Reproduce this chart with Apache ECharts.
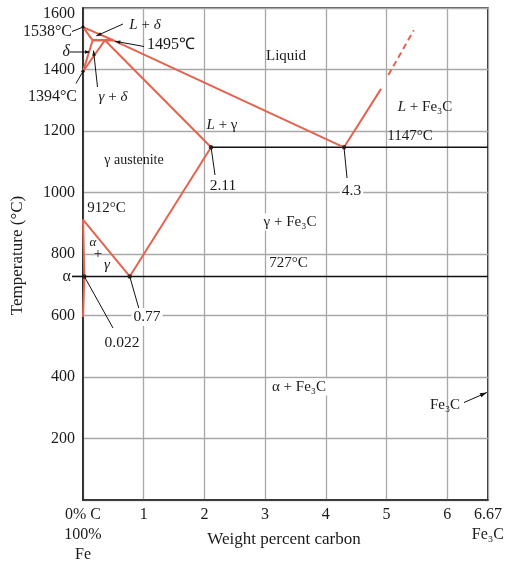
<!DOCTYPE html>
<html>
<head>
<meta charset="utf-8">
<script src="https://cdn.jsdelivr.net/npm/echarts@6/dist/echarts.min.js"></script>
<style>
  html, body { margin: 0; padding: 0; background: #fff; }
  #chart { width: 507px; height: 565px; }
</style>
</head>
<body>
<div id="chart"></div>
<script>
// Iron–iron carbide phase diagram. Every boundary is a list of [wt% C, °C] vertices.
const xTickValues = [0, 1, 2, 3, 4, 5, 6, 6.67];
const yTickValues = [0, 200, 400, 600, 800, 1000, 1200, 1400, 1600];

const liquidus          = [[0, 1538], [0.5, 1495], [4.3, 1147], [4.91, 1337]];
const liquidusExtension = [[5.03, 1382], [5.45, 1528]];
const deltaSolidus      = [[0, 1538], [0.16, 1495]];
const peritecticLine    = [[0.16, 1495], [0.5, 1495]];
const deltaSolvus       = [[0.16, 1495], [0, 1394]];
const gammaDeltaLine    = [[0, 1394], [0.36, 1495]];
const solidus           = [[0.36, 1495], [2.11, 1147]];
const acmLine           = [[2.11, 1147], [0.77, 727]];
const a3Line            = [[0, 912], [0.77, 727]];
const alphaLine         = [[0, 912], [0.022, 727], [0, 595]];
const eutecticLine      = [[2.11, 1147], [6.67, 1147]];
const eutectoidLine     = [[0, 727], [6.67, 727]];
const invariantPoints   = [[0.022, 727], [0.77, 727], [2.11, 1147], [4.3, 1147]];

const RED = '#e2644f';
const INK = '#1a1a1a';
const SERIF = '"Liberation Serif", "Times New Roman", serif';

const chart = echarts.init(document.getElementById('chart'), null, { renderer: 'canvas' });

function redLine(data, extra) {
  return Object.assign({
    type: 'line', data: data, symbol: 'none', showSymbol: false, silent: true, z: 4,
    lineStyle: { color: RED, width: 2 }
  }, extra || {});
}
function blackLine(data) {
  return { type: 'line', data: data, symbol: 'none', showSymbol: false, silent: true, z: 3,
           lineStyle: { color: '#111', width: 1.6 } };
}

chart.setOption({
  animation: false,
  backgroundColor: '#fff',
  grid: { left: 83, right: 18, top: 8, bottom: 62, show: true, borderColor: '#222', borderWidth: 1.6 },
  xAxis: {
    type: 'value', min: 0, max: 6.67, interval: 1,
    axisLine: { show: true, lineStyle: { color: '#222', width: 1.6 } },
    axisTick: { show: false },
    splitLine: { show: true, lineStyle: { color: '#a8a8a8', width: 1.3 } },
    axisLabel: {
      margin: 5, color: INK, fontSize: 16, fontFamily: SERIF, lineHeight: 20,
      formatter: function (v) {
        if (v === xTickValues[0]) return '0% C\n100%\nFe';
        if (Math.abs(v - xTickValues[xTickValues.length - 1]) < 1e-6) return '6.67\nFe₃C';
        return String(v);
      }
    }
  },
  yAxis: {
    type: 'value', min: yTickValues[0], max: yTickValues[yTickValues.length - 1], interval: 200,
    axisLine: { show: true, lineStyle: { color: '#222', width: 1.6 } },
    axisTick: { show: false },
    splitLine: { show: true, lineStyle: { color: '#a8a8a8', width: 1.3 } },
    axisLabel: {
      margin: 8, color: INK, fontSize: 16, fontFamily: SERIF,
      formatter: function (v) {
        if (v === 0) return '';
        if (v === 1600) return '{top|1600}';
        return String(v);
      },
      rich: { top: { padding: [12, 0, 0, 0], fontSize: 16, fontFamily: SERIF, color: INK } }
    }
  },
  series: [
    blackLine(eutecticLine),
    blackLine(eutectoidLine),
    redLine(liquidus),
    redLine(liquidusExtension, { lineStyle: { color: RED, width: 2, type: [6, 4] } }),
    redLine(deltaSolidus),
    redLine(peritecticLine, { lineStyle: { color: RED, width: 2.6 } }),
    redLine(deltaSolvus),
    redLine(gammaDeltaLine),
    redLine(solidus),
    redLine(acmLine),
    redLine(a3Line),
    redLine(alphaLine),
    { type: 'scatter', data: invariantPoints, symbol: 'circle', symbolSize: 4.5, silent: true, z: 6,
      itemStyle: { color: '#111' } }
  ]
});

// ---- annotations, anchored to the plotted geometry where they point at it ----
const px = p => chart.convertToPixel({ gridIndex: 0 }, p);
const rich = {
  i:  { fontStyle: 'italic', fontSize: 15, fontFamily: SERIF, fill: INK },
  r:  { fontSize: 15, fontFamily: SERIF, fill: INK },
  gi: { fontStyle: 'italic', fontSize: 15, fontFamily: SERIF, fill: INK }
};
function text(str, x, y, opt) {
  return { type: 'text', x: x, y: y, z: 30, silent: true,
    style: Object.assign({ text: str, fill: INK, fontSize: 15, fontFamily: SERIF,
      align: 'center', verticalAlign: 'middle', rich: rich }, opt || {}) };
}
function segment(a, b, w) {
  return { type: 'line', z: 25, silent: true,
    shape: { x1: a[0], y1: a[1], x2: b[0], y2: b[1] }, style: { stroke: '#111', lineWidth: w || 1 } };
}
function dot(p, r) {
  return { type: 'circle', z: 26, silent: true, shape: { cx: p[0], cy: p[1], r: r || 1.7 }, style: { fill: '#111' } };
}
function arrowHead(a, b, len, half) {
  const dx = b[0] - a[0], dy = b[1] - a[1], L = Math.hypot(dx, dy);
  const ux = dx / L, uy = dy / L;
  const bx = b[0] - ux * len, by = b[1] - uy * len;
  return { type: 'polygon', z: 26, silent: true,
    shape: { points: [[b[0], b[1]], [bx - uy * half, by + ux * half], [bx + uy * half, by - ux * half]] },
    style: { fill: '#111' } };
}
function centroid(pts) {
  return [pts.reduce((s, p) => s + p[0], 0) / pts.length, pts.reduce((s, p) => s + p[1], 0) / pts.length];
}

const pMelt   = px(liquidus[0]);
const pPeriR  = px(peritecticLine[1]);
const p1394   = px(gammaDeltaLine[0]);
const p912    = px(a3Line[0]);
const pAlpha  = px(invariantPoints[0]);
const pEutd   = px(invariantPoints[1]);
const pGamma  = px(invariantPoints[2]);
const pEutc   = px(invariantPoints[3]);
const pLdelta = px(centroid([liquidus[0], peritecticLine[0], peritecticLine[1]]));
const pGD     = px(centroid([gammaDeltaLine[0], peritecticLine[0], gammaDeltaLine[1]]));
const rightEdge = px([6.67, 0])[0];

const g = [];
// axis titles
g.push(text('Temperature (°C)', 18, 255.5, { fontSize: 17 }));
g[g.length - 1].rotation = Math.PI / 2;
g.push(text('Weight percent carbon', 284, 540, { fontSize: 17 }));

// phase fields
g.push(text('Liquid', 286, 56));
g.push(text('{i|L}{r| + Fe₃C}', 425, 107));
g.push(text('{i|L}{r| + γ}', 222, 125));
g.push(text('γ austenite', 134, 160, { fontSize: 14 }));
g.push(text('γ + Fe₃C', 290, 222, { backgroundColor: '#fff', padding: [1, 2] }));
g.push(text('α + Fe₃C', 299, 387, { backgroundColor: '#fff', padding: [1, 2] }));

// Fe3C at the right edge
g.push(text('Fe₃C', 445, 405));
g.push(segment([464, 402.5], [rightEdge - 1, 392.5]));
g.push(arrowHead([464, 402.5], [rightEdge - 1, 392.5], 7, 2.2));

// top-left cluster
g.push(text('{i|L}{r| + }{gi|δ}', 145, 25));
g.push(segment([123, 24], pLdelta));
g.push(arrowHead([123, 24], pLdelta, 5, 1.8));

g.push(text('1495℃', 171, 45, { fontSize: 16 }));
g.push(segment([144, 46.5], [pPeriR[0] + 2, pPeriR[1] + 1]));
g.push(arrowHead([144, 46.5], [pPeriR[0] + 2, pPeriR[1] + 1], 5, 1.8));

g.push(text('1538°C', 72, 32, { align: 'right', fontSize: 16 }));
g.push(segment([72, 31.5], pMelt));
g.push(dot(pMelt, 1.6));

g.push(text('δ', 70, 52, { align: 'right', fontSize: 16, fontStyle: 'italic' }));
g.push(segment([70, 52], [89, 52]));
g.push(arrowHead([70, 52], [90, 52], 5, 1.8));

g.push(text('1394°C', 77, 97, { align: 'right', fontSize: 16 }));
g.push(segment([76, 83.5], p1394));
g.push(dot(p1394, 1.6));

g.push(text('{gi|γ}{r| + }{gi|δ}', 113, 97));
g.push(segment([97.5, 87], pGD));
g.push(arrowHead([97.5, 87], pGD, 5, 1.8));

// isotherm labels
g.push(text('1147°C', 410, pEutc[1] - 11.5));
g.push(text('727°C', 288.5, pEutd[1] - 13));
g.push(text('912°C', p912[0] + 23.5, p912[1] - 11));

// α + γ field
g.push(text('α', 93, pEutd[1] - 33.5, { fontSize: 13, fontStyle: 'italic' }));
g.push(text('+', 98, pEutd[1] - 22, { fontSize: 15 }));
g.push(text('γ', 107, pEutd[1] - 11, { fontSize: 15, fontStyle: 'italic' }));

// α field marker on the left axis
g.push(text('α', 71, pEutd[1], { align: 'right', fontSize: 16 }));
g.push(segment([72, pEutd[1]], [px([0, 0])[0], pEutd[1]], 1.6));

// composition callouts
g.push(text('0.022', 122, 343, { fontSize: 15.5 }));
g.push(segment([113, 328], pAlpha));
g.push(text('0.77', 147, 317, { fontSize: 15.5, backgroundColor: '#fff', padding: [1, 2] }));
g.push(segment([139, 309], pEutd));
g.push(text('2.11', 223, 186, { fontSize: 15.5 }));
g.push(segment([215, 175], pGamma));
g.push(text('4.3', 351.5, 191, { fontSize: 15.5, backgroundColor: '#fff', padding: [1, 2] }));
g.push(segment([347, 178], pEutc));

chart.setOption({ graphic: g });
</script>
</body>
</html>
